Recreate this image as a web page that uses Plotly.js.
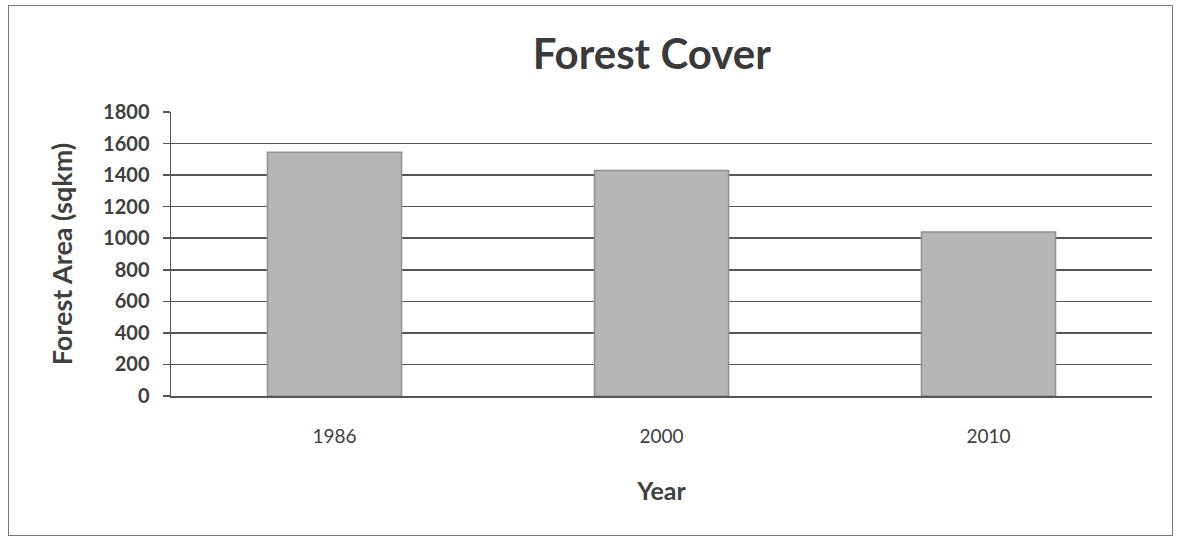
<!DOCTYPE html>
<html>
<head>
<meta charset="utf-8">
<script src="https://cdn.plot.ly/plotly-3.0.1.min.js"></script>
<style>
html,body{margin:0;padding:0;background:#fff;}
#wrap{position:relative;width:1185px;height:540px;}
#chart{width:1185px;height:540px;}
#frame{position:absolute;left:8px;top:5px;width:1163px;height:529px;border:1.5px solid #777;pointer-events:none;}
</style>
</head>
<body>
<div id="wrap"><div id="chart"></div><div id="frame"></div></div>
<script>
const years = ['1986', '2000', '2010'];
const forestArea = [1545, 1430, 1040];
const yTicks = [0, 200, 400, 600, 800, 1000, 1200, 1400, 1600, 1800];

const font = 'Lato, "Open Sans", sans-serif';

const trace = {
  type: 'bar',
  x: years,
  y: forestArea,
  marker: {color: '#b6b6b6', line: {color: '#8f8f8f', width: 1.5}},
  hoverinfo: 'x+y'
};

const layout = {
  width: 1185, height: 540,
  margin: {l: 171, r: 33, t: 112, b: 144},
  paper_bgcolor: '#ffffff',
  plot_bgcolor: '#ffffff',
  bargap: 0.59,
  showlegend: false,
  title: {
    text: '<b>Forest Cover</b>',
    font: {family: font, size: 42, color: '#3a3a3a'},
    x: 0.55, xanchor: 'center', y: 0.9, yanchor: 'middle'
  },
  xaxis: {
    type: 'category',
    showline: true, linecolor: '#555', linewidth: 1.5,
    ticks: '', tickfont: {family: font, size: 19, color: '#404040'},
    ticklabelstandoff: 23,
    title: {text: '<b>Year</b>', font: {family: font, size: 25, color: '#404040'}, standoff: 36},
    showgrid: false
  },
  yaxis: {
    range: [0, 1800],
    tickvals: yTicks,
    ticktext: yTicks.map(String),
    showline: true, linecolor: '#555', linewidth: 1.5,
    ticks: 'outside', ticklen: 7, tickcolor: '#555', tickwidth: 1.5,
    showgrid: true, gridcolor: '#555', gridwidth: 1.5,
    zeroline: false,
    ticklabelstandoff: 9,
    tickfont: {family: font, size: 20, color: '#404040', weight: 'bold'},
    title: {text: '<b>Forest Area (sqkm)</b>', font: {family: font, size: 27, color: '#404040'}, standoff: 22}
  }
};

Plotly.newPlot('chart', [trace], layout, {displayModeBar: false, staticPlot: true});
</script>
</body>
</html>
